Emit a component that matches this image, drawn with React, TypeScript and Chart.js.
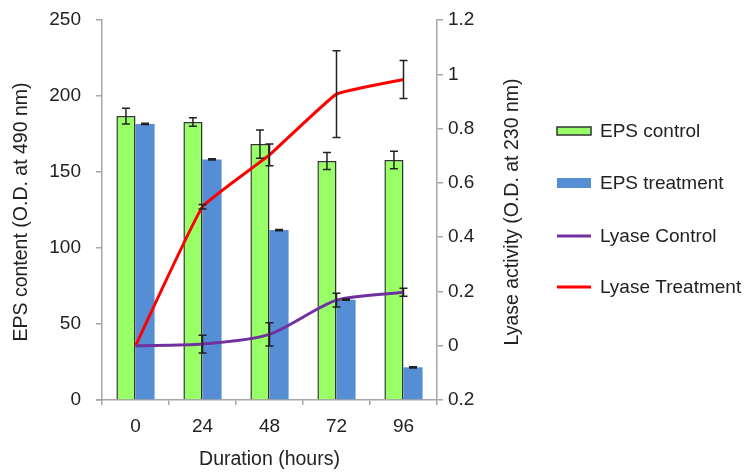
import React, { useEffect, useRef } from "react";
import { Chart, registerables } from "chart.js";

Chart.register(...registerables);

const categories = ["0", "24", "48", "72", "96"];
const epsControl = [186.8, 182.9, 168.4, 157.2, 157.9];
const epsControlErr = [5.2, 2.8, 9.3, 5.6, 5.7];
const epsTreatment = [181.6, 158.3, 111.8, 66.0, 21.5];
const epsTreatmentErr = [0.4, 0.4, 0.4, 0.4, 0.4];
const lyaseControl = [0, 0.006, 0.042, 0.168, 0.197];
const lyaseControlErr = [0, 0.033, 0.043, 0.025, 0.015];
const lyaseTreatment = [0, 0.512, 0.703, 0.927, 0.981];
const lyaseTreatmentErr = [0, 0.008, 0.04, 0.16, 0.07];

const FONT = '"Liberation Sans", Arial, sans-serif';
const TEXT = "#222222";
const AXIS = "#a6a6a6";
const GREEN = "#99ff66";
const BLUE = "#558ed5";
const PURPLE = "#7030a0";
const RED = "#ff0000";

const legendItems = [
  { label: "EPS control", kind: "box", fill: GREEN, stroke: "#333333" },
  { label: "EPS treatment", kind: "box", fill: BLUE, stroke: null },
  { label: "Lyase Control", kind: "line", fill: PURPLE, stroke: null },
  { label: "Lyase Treatment", kind: "line", fill: RED, stroke: null },
];

const errorBarPlugin = {
  id: "errorBars",
  afterDatasetsDraw(chart: any) {
    const ctx = chart.ctx;
    ctx.save();
    chart.data.datasets.forEach((ds: any, di: number) => {
      if (!ds.errors) return;
      const meta = chart.getDatasetMeta(di);
      const yScale = chart.scales[meta.yAxisID];
      meta.data.forEach((el: any, i: number) => {
        const err = ds.errors[i];
        if (!err) return;
        const v = ds.data[i];
        const x = el.x;
        const yTop = yScale.getPixelForValue(v + err);
        const yBot = yScale.getPixelForValue(v - err);
        ctx.strokeStyle = "#222222";
        ctx.lineWidth = 1.5;
        ctx.beginPath();
        ctx.moveTo(x, yTop);
        ctx.lineTo(x, yBot);
        ctx.moveTo(x - 4, yTop);
        ctx.lineTo(x + 4, yTop);
        ctx.moveTo(x - 4, yBot);
        ctx.lineTo(x + 4, yBot);
        ctx.stroke();
      });
    });
    ctx.restore();
  },
};

const decorPlugin = {
  id: "decor",
  afterDraw(chart: any) {
    const ctx = chart.ctx;
    const area = chart.chartArea;
    ctx.save();
    ctx.fillStyle = TEXT;
    ctx.font = `19.5px ${FONT}`;
    ctx.textAlign = "center";
    ctx.textBaseline = "middle";
    const midY = 212;
    // left title
    ctx.save();
    ctx.translate(22, midY);
    ctx.rotate(-Math.PI / 2);
    ctx.fillText("EPS content (O.D. at 490 nm)", 0, 0);
    ctx.restore();
    // right title
    ctx.save();
    ctx.translate(area.right + 76, midY);
    ctx.rotate(-Math.PI / 2);
    ctx.fillText("Lyase activity (O.D. at 230 nm)", 0, 0);
    ctx.restore();
    // x title
    ctx.fillText("Duration (hours)", (area.left + area.right) / 2, 460);

    // x-axis line stub to the left of the y axis
    ctx.strokeStyle = AXIS;
    ctx.lineWidth = 1.5;
    ctx.beginPath();
    ctx.moveTo(area.left - 6, area.bottom);
    ctx.lineTo(area.left, area.bottom);
    ctx.stroke();

    // legend
    const lx = 557;
    const ys = [131, 183, 236, 287];
    ctx.font = `19px ${FONT}`;
    ctx.textAlign = "left";
    legendItems.forEach((it, i) => {
      const y = ys[i];
      if (it.kind === "box") {
        const h = it.stroke ? 8 : 10;
        ctx.fillStyle = it.fill;
        ctx.fillRect(lx, y - h / 2, 34, h);
        if (it.stroke) {
          ctx.strokeStyle = it.stroke;
          ctx.lineWidth = 1.5;
          ctx.strokeRect(lx, y - h / 2, 34, h);
        }
      } else {
        ctx.strokeStyle = it.fill;
        ctx.lineWidth = 3;
        ctx.beginPath();
        ctx.moveTo(lx, y);
        ctx.lineTo(lx + 34, y);
        ctx.stroke();
      }
      ctx.fillStyle = TEXT;
      ctx.fillText(it.label, 600, y + 1);
    });
    ctx.restore();
  },
};

export default function App() {
  const ref = useRef<HTMLCanvasElement>(null);

  useEffect(() => {
    document.body.style.margin = "0";
    const canvas = ref.current;
    if (!canvas) return;
    const chart = new Chart(canvas, {
      type: "bar",
      data: {
        labels: categories,
        datasets: [
          {
            type: "bar",
            label: "EPS control",
            data: epsControl,
            errors: epsControlErr,
            backgroundColor: GREEN,
            borderColor: "#333333",
            borderWidth: 1.5,
            yAxisID: "y",
            order: 2,
            categoryPercentage: 0.57,
            barPercentage: 1.0,
          } as any,
          {
            type: "bar",
            label: "EPS treatment",
            data: epsTreatment,
            errors: epsTreatmentErr,
            backgroundColor: BLUE,
            borderWidth: 0,
            yAxisID: "y",
            order: 2,
            categoryPercentage: 0.57,
            barPercentage: 1.0,
          } as any,
          {
            type: "line",
            label: "Lyase Control",
            data: lyaseControl,
            errors: lyaseControlErr,
            borderColor: PURPLE,
            backgroundColor: PURPLE,
            borderWidth: 3,
            pointRadius: 0,
            tension: 0.25,
            yAxisID: "y1",
            order: 1,
          } as any,
          {
            type: "line",
            label: "Lyase Treatment",
            data: lyaseTreatment,
            errors: lyaseTreatmentErr,
            borderColor: RED,
            backgroundColor: RED,
            borderWidth: 3,
            pointRadius: 0,
            tension: 0.1,
            yAxisID: "y1",
            order: 1,
          } as any,
        ],
      },
      options: {
        responsive: false,
        animation: false,
        layout: { padding: { top: 20, left: 0, right: 0, bottom: 0 } },
        plugins: {
          legend: { display: false },
          tooltip: { enabled: false },
        },
        scales: {
          x: {
            type: "category",
            offset: true,
            grid: {
              offset: true,
              display: true,
              drawOnChartArea: false,
              drawTicks: true,
              tickLength: 5,
              color: AXIS,
              lineWidth: 1.5,
            },
            border: { display: true, color: AXIS, width: 1.5 },
            ticks: {
              color: TEXT,
              font: { family: FONT, size: 19 },
              padding: 10,
              maxRotation: 0,
            },
            afterFit(scale: any) {
              scale.height = 76;
              scale.paddingLeft = 0;
              scale.paddingRight = 0;
            },
          },
          y: {
            type: "linear",
            position: "left",
            min: 0,
            max: 250,
            ticks: {
              stepSize: 50,
              color: TEXT,
              font: { family: FONT, size: 19 },
              padding: 15,
            },
            grid: {
              display: true,
              drawOnChartArea: false,
              drawTicks: true,
              tickLength: 6,
              color: AXIS,
              lineWidth: 1.5,
            },
            border: { display: true, color: AXIS, width: 1.5 },
            afterFit(scale: any) {
              scale.width = 102;
              scale.paddingTop = 0;
              scale.paddingBottom = 0;
            },
          },
          y1: {
            type: "linear",
            position: "right",
            min: -0.2,
            max: 1.2,
            ticks: {
              stepSize: 0.2,
              color: TEXT,
              font: { family: FONT, size: 19 },
              padding: 5,
              callback: (v: any) => {
                const r = Math.abs(Math.round(Number(v) * 10) / 10);
                return String(r);
              },
            },
            grid: {
              display: true,
              drawOnChartArea: false,
              drawTicks: true,
              tickLength: 6,
              color: AXIS,
              lineWidth: 1.5,
            },
            border: { display: true, color: AXIS, width: 1.5 },
            afterFit(scale: any) {
              scale.width = 311;
              scale.paddingTop = 0;
              scale.paddingBottom = 0;
            },
          },
        },
      } as any,
      plugins: [errorBarPlugin, decorPlugin],
    });
    return () => chart.destroy();
  }, []);

  return (
    <div style={{ width: 748, height: 476, background: "#ffffff" }}>
      <canvas ref={ref} width={748} height={476} />
    </div>
  );
}
